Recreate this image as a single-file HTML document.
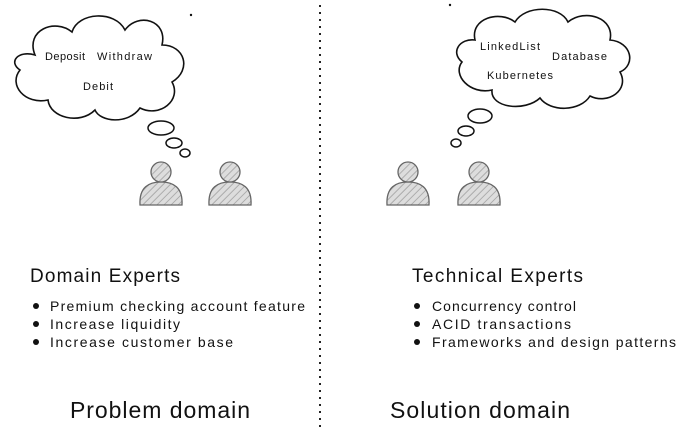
<!DOCTYPE html>
<html><head><style>
html,body{margin:0;padding:0;background:#fff;width:691px;height:430px;overflow:hidden}
text{font-family:"Comic Sans MS","Liberation Sans",sans-serif;fill:#111}
</style></head><body>
<svg width="691" height="430" viewBox="0 0 691 430" xmlns="http://www.w3.org/2000/svg">
<defs>
<pattern id="h" width="5" height="5" patternUnits="userSpaceOnUse" patternTransform="rotate(45)">
<rect width="5" height="5" fill="#ddd"/><line x1="0" y1="0" x2="0" y2="5" stroke="#999" stroke-width="1.4"/>
</pattern>
<g id="p">
<path d="M-21 33 C-22 15 -12 10 0 10 C12 10 22 15 21 33 Z" fill="url(#h)" stroke="#666" stroke-width="1.3"/>
<circle cx="0" cy="0" r="10" fill="url(#h)" stroke="#666" stroke-width="1.3"/>
</g>
</defs>
<line x1="320" y1="5" x2="320" y2="428" stroke="#222" stroke-width="2" stroke-dasharray="2,5"/>
<path d="M35 55 C25 30 55 18 72 32 C78 12 115 10 125 30 C138 12 168 20 162 45 C185 45 192 70 172 82 C182 100 160 118 140 108 C128 125 100 122 95 110 C80 125 50 118 48 100 C25 105 8 85 20 70 C8 62 18 50 35 55 Z" fill="#fff" stroke="#111" stroke-width="1.6"/>
<ellipse cx="161" cy="128" rx="13" ry="7" fill="none" stroke="#111" stroke-width="1.5"/>
<ellipse cx="174" cy="143" rx="8" ry="5" fill="none" stroke="#111" stroke-width="1.5"/>
<ellipse cx="185" cy="153" rx="5" ry="4" fill="none" stroke="#111" stroke-width="1.5"/>
<text x="45" y="60" font-size="11" textLength="40">Deposit</text>
<text x="97" y="60" font-size="11" textLength="55">Withdraw</text>
<text x="83" y="90" font-size="11" textLength="30">Debit</text>
<path d="M475 40 C470 18 500 10 515 22 C525 5 560 5 568 22 C585 8 615 18 610 40 C632 42 636 65 620 72 C630 90 608 105 590 96 C580 112 550 112 540 98 C525 112 490 108 492 90 C470 95 452 75 462 62 C450 52 460 38 475 40 Z" fill="#fff" stroke="#111" stroke-width="1.6"/>
<ellipse cx="480" cy="116" rx="12" ry="7" fill="none" stroke="#111" stroke-width="1.5"/>
<ellipse cx="466" cy="131" rx="8" ry="5" fill="none" stroke="#111" stroke-width="1.5"/>
<ellipse cx="456" cy="143" rx="5" ry="4" fill="none" stroke="#111" stroke-width="1.5"/>
<text x="480" y="50" font-size="11" textLength="60">LinkedList</text>
<text x="552" y="60" font-size="11" textLength="55">Database</text>
<text x="487" y="79" font-size="11" textLength="66">Kubernetes</text>
<use href="#p" x="161" y="172"/>
<use href="#p" x="230" y="172"/>
<use href="#p" x="408" y="172"/>
<use href="#p" x="479" y="172"/>
<text x="30" y="282" font-size="19" textLength="150">Domain Experts</text>
<g font-size="14">
<text x="50" y="311" textLength="255">Premium checking account feature</text>
<text x="50" y="329" textLength="130">Increase liquidity</text>
<text x="50" y="347" textLength="183">Increase customer base</text>
<text x="432" y="311" textLength="144">Concurrency control</text>
<text x="432" y="329" textLength="139">ACID transactions</text>
<text x="432" y="347" textLength="244">Frameworks and design patterns</text>
</g>
<g fill="#111">
<circle cx="36" cy="306" r="3"/><circle cx="36" cy="324" r="3"/><circle cx="36" cy="342" r="3"/>
<circle cx="417" cy="306" r="3"/><circle cx="417" cy="324" r="3"/><circle cx="417" cy="342" r="3"/>
</g>
<text x="412" y="282" font-size="19" textLength="171">Technical Experts</text>
<text x="70" y="418" font-size="23" textLength="180">Problem domain</text>
<text x="390" y="418" font-size="23" textLength="180">Solution domain</text>
<circle cx="191" cy="15" r="1.2" fill="#111"/>
<circle cx="450" cy="5" r="1.2" fill="#111"/>
</svg>
</body></html>
